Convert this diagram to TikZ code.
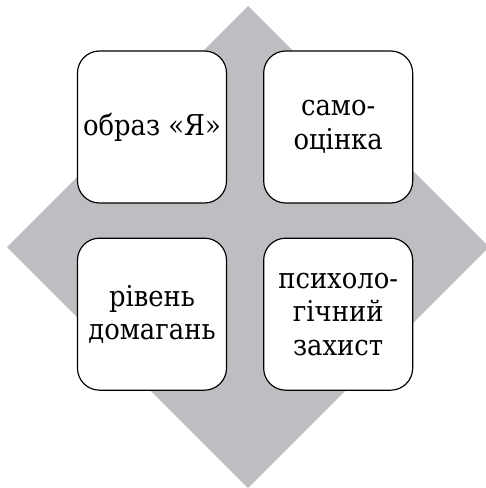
\documentclass[tikz,border=0pt]{standalone}
\usepackage{fontspec}
\setmainfont{DejaVu Serif}[FakeStretch=0.9]
\usetikzlibrary{positioning}
\definecolor{diamondgray}{RGB}{189,190,193}
\tikzset{
  cellbox/.style={draw=black,fill=white,rounded corners=0.66cm,line width=1pt,
    minimum width=4.47cm,minimum height=4.56cm,inner sep=0pt,align=center,
    font=\fontsize{24.5}{28.5}\selectfont},
}

\begin{document}
\begin{tikzpicture}
  \useasboundingbox (0,0) rectangle (14.55,-14.64);
  % gray background diamond
  \coordinate (dc) at (7.44,-7.41);
  \fill[diamondgray] (dc) ++(0,7.23) -- ++(7.23,-7.23) -- ++(-7.23,-7.23)
    -- ++(-7.23,7.23) -- cycle;
  % the four boxes
  \node[cellbox] (image) at (4.56,-3.81) {образ «Я»};
  \node[cellbox,right=1.08cm of image] (esteem) {само-\\оцінка};
  \node[cellbox,below=1.02cm of image] (aspir) {рівень\\домагань};
  \node[cellbox,right=1.08cm of aspir] (defense) {психоло-\\гічний\\захист};
\end{tikzpicture}
\end{document}
